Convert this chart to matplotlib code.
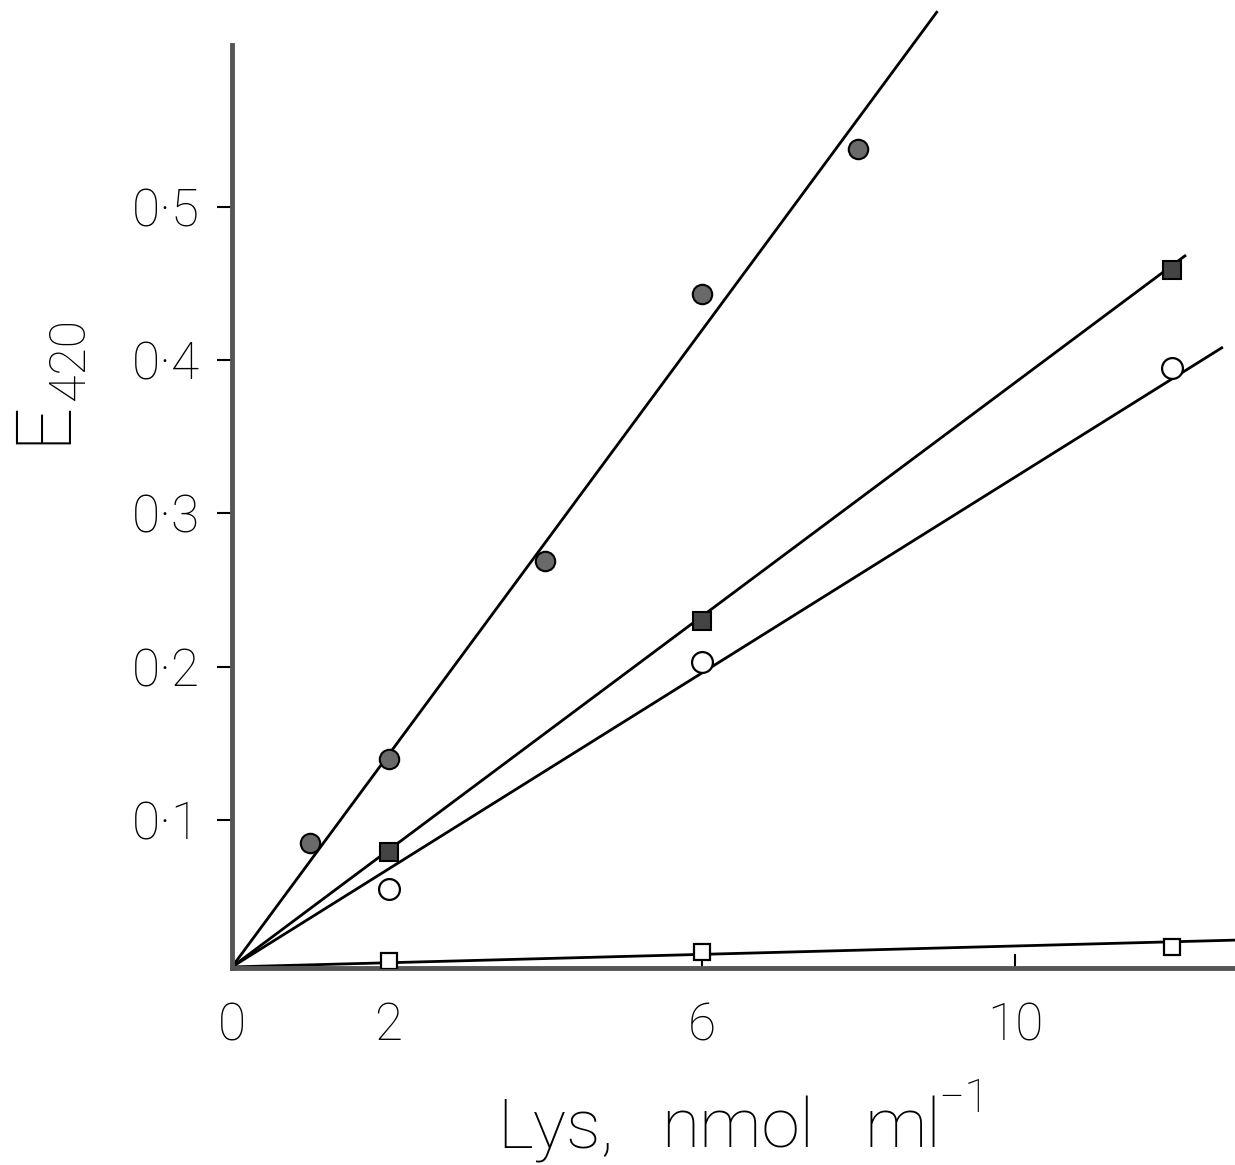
import matplotlib.pyplot as plt

# data
x_fc = [1, 2, 4, 6, 8]
y_fc = [0.085, 0.140, 0.269, 0.443, 0.538]
x_fs = [2, 6, 12]
y_fs = [0.079, 0.230, 0.459]
x_oc = [2, 6, 12]
y_oc = [0.055, 0.203, 0.395]
x_os = [2, 6, 12]
y_os = [0.008, 0.014, 0.017]

# fitted lines (start, end)
fit_fc_x = [0, 9.0]
fit_fc_y = [0.004, 0.627]
fit_fs_x = [0, 12.17]
fit_fs_y = [0.004, 0.468]
fit_oc_x = [0, 12.64]
fit_oc_y = [0.004, 0.408]
fit_os_x = [0, 12.81]
fit_os_y = [0.004, 0.0215]

xticks = [0, 2, 6, 10]
yticks = [0.1, 0.2, 0.3, 0.4, 0.5]
ytick_labels = ["0·1", "0·2", "0·3", "0·4", "0·5"]

plt.rcParams['font.family'] = ['Roboto', 'DejaVu Sans']

W, H = 1235, 1165
fig = plt.figure(figsize=(W / 100, H / 100), dpi=100, facecolor='w')
ax = fig.add_axes([232 / W, 1 - 968 / H, 1 - 232 / W, 968 / H])
ax.set_xlim(0, 12.81)
ax.set_ylim(0.0033, 0.635)

for s in ['top', 'right']:
    ax.spines[s].set_visible(False)
for s in ['left', 'bottom']:
    ax.spines[s].set_linewidth(3.5)
    ax.spines[s].set_color('#555555')
ax.spines['left'].set_bounds(0.0033, 0.6055)

lw = 2.0
ax.plot(fit_fc_x, fit_fc_y, color='black', linewidth=lw, clip_on=False)
ax.plot(fit_fs_x, fit_fs_y, color='black', linewidth=lw, clip_on=False)
ax.plot(fit_oc_x, fit_oc_y, color='black', linewidth=lw, clip_on=False)
ax.plot(fit_os_x, fit_os_y, color='black', linewidth=lw, clip_on=False)

ax.plot(x_fc, y_fc, linestyle='none', marker='o', markersize=14,
        markerfacecolor='#6a6a6a', markeredgecolor='black', markeredgewidth=1.5, zorder=5)
ax.plot(x_fs, y_fs, linestyle='none', marker='s', markersize=13,
        markerfacecolor='#444444', markeredgecolor='black', markeredgewidth=1.5, zorder=5)
ax.plot(x_oc, y_oc, linestyle='none', marker='o', markersize=15,
        markerfacecolor='white', markeredgecolor='black', markeredgewidth=1.6, zorder=5)
ax.plot(x_os, y_os, linestyle='none', marker='s', markersize=12,
        markerfacecolor='white', markeredgecolor='black', markeredgewidth=1.6, zorder=5)

ax.set_xticks(xticks)
ax.set_xticklabels([str(t) for t in xticks])
ax.set_yticks(yticks)
ax.set_yticklabels(ytick_labels)
ax.tick_params(axis='x', direction='in', length=10, width=1.5, pad=24, labelsize=37)
ax.tick_params(axis='y', direction='out', length=11, width=1.5, pad=12, labelsize=37)
for t in ax.get_xticklabels() + ax.get_yticklabels():
    t.set_fontweight('light')

# y label: E with subscript 420
fig.text(64 / W, 1 - 444 / H, 'E', rotation=90, rotation_mode='anchor',
         fontsize=56, fontweight='light', ha='left', va='baseline')
fig.text(84 / W, 1 - 400 / H, '420', rotation=90, rotation_mode='anchor',
         fontsize=36, fontweight='light', ha='left', va='baseline')

# x label pieces
base = 1 - 1147 / H
fig.text(497 / W, base, 'Lys,', fontsize=50, fontweight='light', ha='left', va='baseline')
fig.text(661 / W, base, 'nmol', fontsize=50, fontweight='light', ha='left', va='baseline')
fig.text(865 / W, base, 'ml', fontsize=50, fontweight='light', ha='left', va='baseline')
fig.text(938 / W, 1 - 1112 / H, '\u22121', fontsize=33, fontweight='light', ha='left', va='baseline')

fig.savefig('out.png', dpi=100)
